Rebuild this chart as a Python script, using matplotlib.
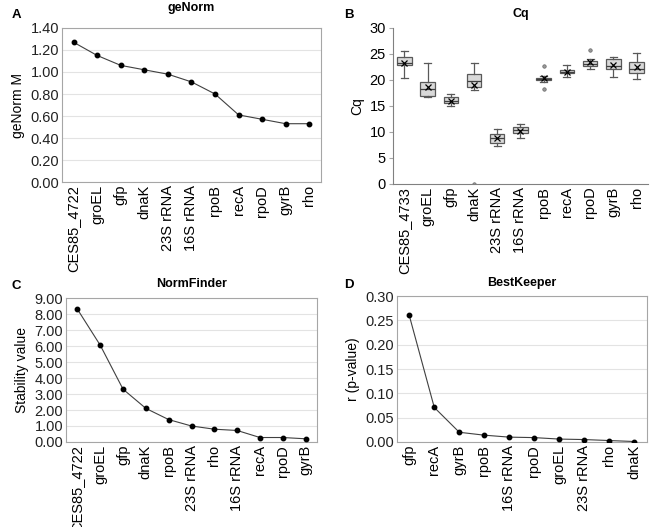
import matplotlib
matplotlib.use("Agg")
import matplotlib.pyplot as plt
import numpy as np

plt.rcParams['font.family'] = ['Liberation Sans', 'DejaVu Sans']
plt.rcParams['font.size'] = 8.5

# geNorm
genorm_genes = ["CES85_4722", "groEL", "gfp", "dnaK", "23S rRNA", "16S rRNA",
                "rpoB", "recA", "rpoD", "gyrB", "rho"]
genorm_m = [1.27, 1.15, 1.06, 1.02, 0.98, 0.91, 0.80, 0.61, 0.57, 0.53, 0.53]

# Cq box stats
cq_genes = ["CES85_4733", "groEL", "gfp", "dnaK", "23S rRNA", "16S rRNA",
            "rpoB", "recA", "rpoD", "gyrB", "rho"]
cq_q1 = [22.8, 17.0, 15.6, 18.6, 7.9, 9.8, 19.9, 21.3, 22.6, 22.1, 21.4]
cq_med = [23.3, 18.3, 16.0, 19.7, 8.8, 10.3, 20.1, 21.6, 23.0, 22.6, 22.1]
cq_q3 = [24.5, 19.6, 16.8, 21.1, 9.6, 10.9, 20.4, 21.9, 23.6, 24.0, 23.4]
cq_lo = [20.3, 16.8, 14.9, 18.1, 7.3, 8.8, 19.6, 20.5, 22.1, 20.6, 20.1]
cq_hi = [25.6, 23.2, 17.2, 23.2, 10.5, 11.5, 20.7, 22.8, 24.0, 24.4, 25.1]
cq_mean = [23.2, 18.7, 16.0, 19.0, 8.8, 10.2, 20.3, 21.6, 23.4, 22.9, 22.4]
cq_fliers = [[], [], [], [0.0], [], [], [22.7, 18.3], [], [25.7], [], []]

# NormFinder
nf_genes = ["CES85_4722", "groEL", "gfp", "dnaK", "rpoB", "23S rRNA", "rho",
            "16S rRNA", "recA", "rpoD", "gyrB"]
nf_stability = [8.30, 6.05, 3.30, 2.10, 1.40, 1.00, 0.80, 0.72, 0.28, 0.28, 0.20]

# BestKeeper
bk_genes = ["gfp", "recA", "gyrB", "rpoB", "16S rRNA", "rpoD", "groEL",
            "23S rRNA", "rho", "dnaK"]
bk_r = [0.260, 0.071, 0.020, 0.014, 0.010, 0.009, 0.006, 0.005, 0.003, 0.001]

GRID = "#e3e3e3"
SPINE = "#a6a6a6"


def line_panel(ax, genes, values, ymax, step, fmt, ylabel):
    x = np.arange(len(genes))
    ax.plot(x, values, color="#404040", lw=0.8, marker="o", ms=3.2,
            mfc="black", mec="black", zorder=3)
    ax.set_xlim(-0.5, len(genes) - 0.5)
    ax.set_ylim(0, ymax)
    ticks = np.arange(0, ymax + step / 2, step)
    ax.set_yticks(ticks)
    ax.set_yticklabels([fmt.format(t) for t in ticks], fontsize=10.5)
    ax.set_xticks(x)
    ax.set_xticklabels(genes, rotation=90, fontsize=10.5)
    ax.set_ylabel(ylabel, fontsize=10)
    ax.grid(axis="y", color=GRID, lw=0.8)
    ax.set_axisbelow(True)
    for s in ax.spines.values():
        s.set_color(SPINE)
        s.set_linewidth(0.8)
    ax.tick_params(axis="both", length=0, pad=2)
    ax.tick_params(axis="y", colors="#222222")


fig = plt.figure(figsize=(6.58, 5.27), dpi=100)

# A
axA = fig.add_axes([0.094, 0.6546, 0.394, 0.2923])
line_panel(axA, genorm_genes, genorm_m, 1.4, 0.2, "{:.2f}", "geNorm M")
axA.set_title("geNorm", fontsize=9, fontweight="bold", pad=12)

# B
axB = fig.add_axes([0.597, 0.651, 0.388, 0.296])
stats = []
for i, g in enumerate(cq_genes):
    stats.append(dict(label=g, q1=cq_q1[i], med=cq_med[i], q3=cq_q3[i],
                      whislo=cq_lo[i], whishi=cq_hi[i], mean=cq_mean[i],
                      fliers=cq_fliers[i]))
axB.bxp(stats, positions=np.arange(len(cq_genes)), widths=0.62,
        capwidths=0.3, patch_artist=True, showmeans=True,
        boxprops=dict(facecolor="#d9d9d9", edgecolor="#595959", lw=0.9),
        medianprops=dict(color="#404040", lw=0.9),
        whiskerprops=dict(color="#595959", lw=0.9),
        capprops=dict(color="#595959", lw=0.9),
        meanprops=dict(marker="x", mec="black", ms=4, mew=0.9),
        flierprops=dict(marker="o", ms=2.5, mfc="#999999", mec="#666666", mew=0.5))
axB.set_xlim(-0.5, len(cq_genes) - 0.5)
axB.set_ylim(0, 30)
axB.set_yticks(range(0, 31, 5))
axB.tick_params(axis="y", labelsize=10.5, length=3, color=SPINE, pad=2)
axB.tick_params(axis="x", labelsize=10.5, length=0, pad=2)
axB.set_xticklabels(cq_genes, rotation=90)
axB.set_ylabel("Cq", fontsize=10)
for side in ["top", "right"]:
    axB.spines[side].set_visible(False)
for side in ["left", "bottom"]:
    axB.spines[side].set_color("#808080")
    axB.spines[side].set_linewidth(0.8)
axB.set_title("Cq", fontsize=9, fontweight="bold", pad=8)

# C
axC = fig.add_axes([0.1003, 0.1613, 0.3815, 0.2732])
line_panel(axC, nf_genes, nf_stability, 9, 1, "{:.2f}", "Stability value")
axC.set_title("NormFinder", fontsize=9, fontweight="bold", pad=8)

# D
axD = fig.add_axes([0.603, 0.1613, 0.380, 0.277])
line_panel(axD, bk_genes, bk_r, 0.30, 0.05, "{:.2f}", "r (p-value)")
axD.set_title("BestKeeper", fontsize=9, fontweight="bold", pad=7)

# panel letters
for lbl, x, y in [("A", 0.018, 0.972), ("B", 0.523, 0.972),
                  ("C", 0.018, 0.457), ("D", 0.523, 0.459)]:
    fig.text(x, y, lbl, fontsize=9.5, fontweight="bold", va="center")

fig.savefig("out.png", dpi=100)
